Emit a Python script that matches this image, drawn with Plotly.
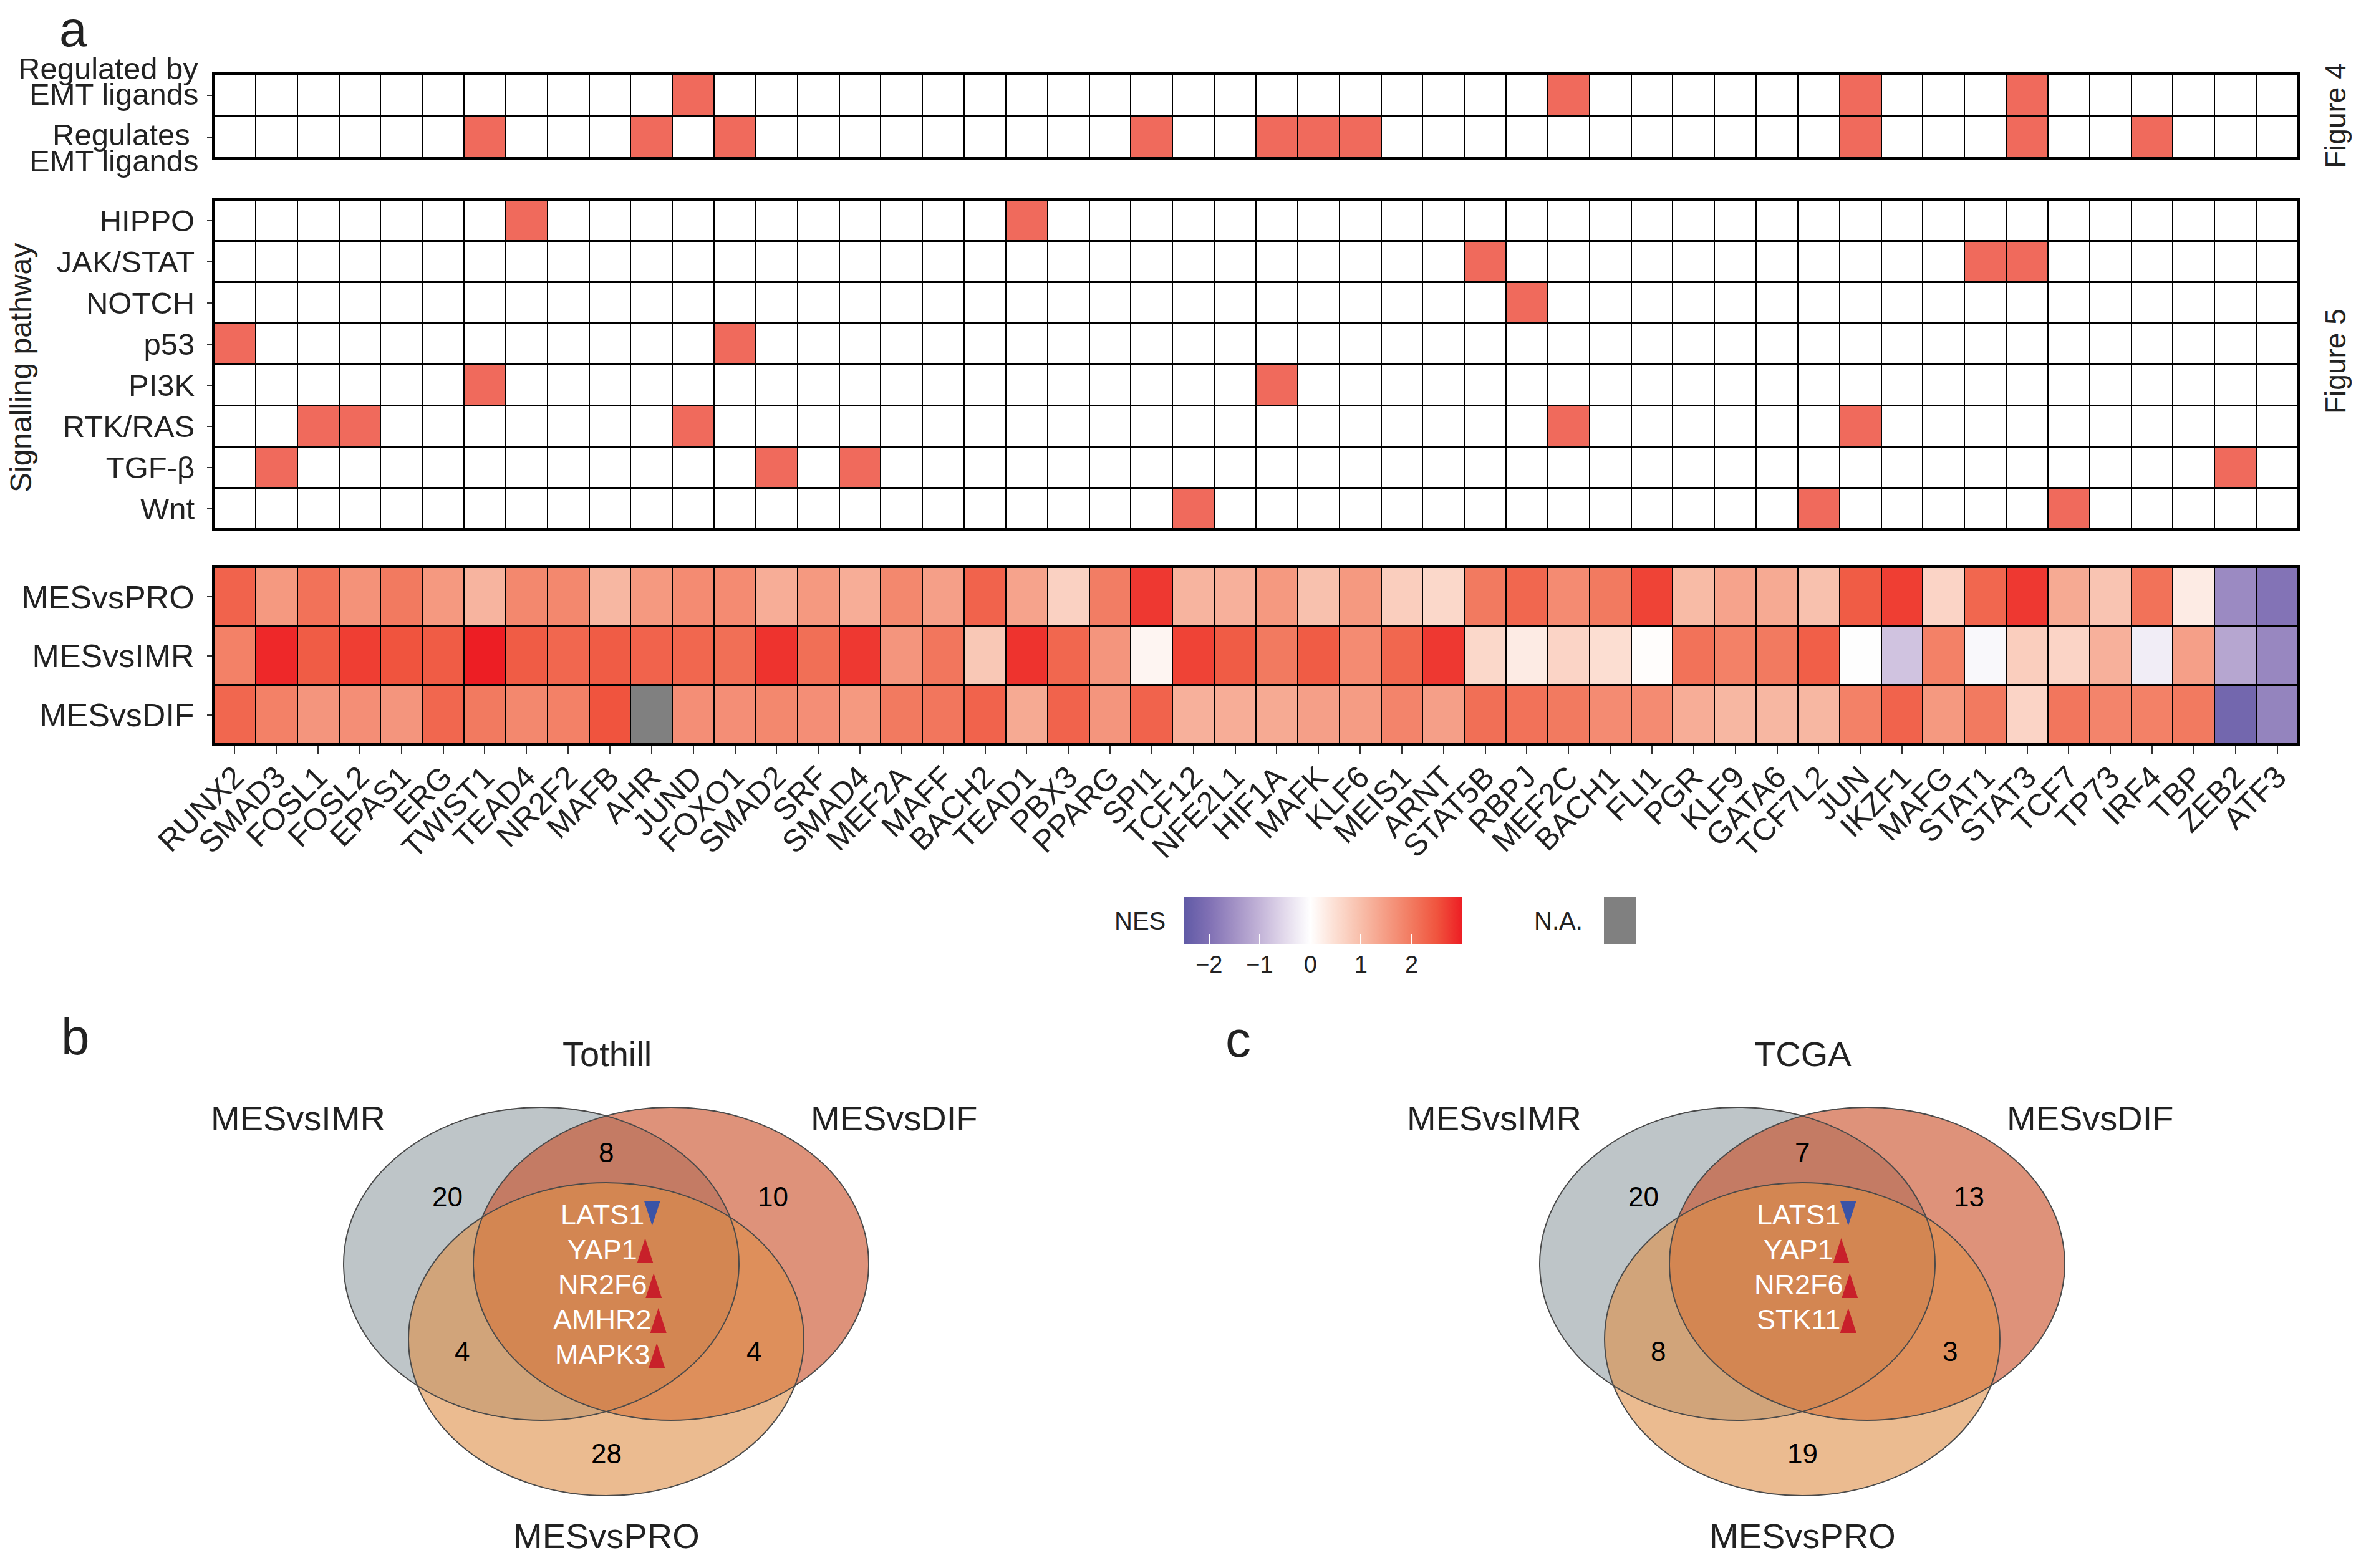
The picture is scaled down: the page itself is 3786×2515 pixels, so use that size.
import plotly.graph_objects as go

# ---------------- DATA ----------------
genes = ["RUNX2", "SMAD3", "FOSL1", "FOSL2", "EPAS1", "ERG", "TWIST1", "TEAD4", "NR2F2", "MAFB",
         "AHR", "JUND", "FOXO1", "SMAD2", "SRF", "SMAD4", "MEF2A", "MAFF", "BACH2", "TEAD1",
         "PBX3", "PPARG", "SPI1", "TCF12", "NFE2L1", "HIF1A", "MAFK", "KLF6", "MEIS1", "ARNT",
         "STAT5B", "RBPJ", "MEF2C", "BACH1", "FLI1", "PGR", "KLF9", "GATA6", "TCF7L2", "JUN",
         "IKZF1", "MAFG", "STAT1", "STAT3", "TCF7", "TP73", "IRF4", "TBP", "ZEB2", "ATF3"]

emt_rows = ["Regulated by EMT ligands", "Regulates EMT ligands"]
regulated_by_emt = ["JUND", "MEF2C", "JUN", "STAT3"]
regulates_emt = ["TWIST1", "AHR", "FOXO1", "SPI1", "HIF1A", "MAFK", "KLF6", "JUN", "STAT3", "IRF4"]

pathways = ["HIPPO", "JAK/STAT", "NOTCH", "p53", "PI3K", "RTK/RAS", "TGF-β", "Wnt"]
hippo = ["TEAD4", "TEAD1"]
jak_stat = ["STAT5B", "STAT1", "STAT3"]
notch = ["RBPJ"]
p53 = ["RUNX2", "FOXO1"]
pi3k = ["TWIST1", "HIF1A"]
rtk_ras = ["FOSL1", "FOSL2", "JUND", "MEF2C", "JUN"]
tgf_beta = ["SMAD3", "SMAD2", "SMAD4", "ZEB2"]
wnt = ["TCF12", "TCF7L2", "TCF7"]

nes_rows = ["MESvsPRO", "MESvsIMR", "MESvsDIF"]
nes_pro = [2.3, 1.55, 2.1, 1.65, 2.0, 1.55, 1.15, 1.8, 1.8, 1.1,
           1.55, 1.75, 1.75, 1.25, 1.55, 1.25, 1.8, 1.45, 2.3, 1.4,
           0.7, 1.95, 2.75, 1.15, 1.2, 1.55, 0.95, 1.55, 0.75, 0.6,
           2.0, 2.25, 1.75, 2.0, 2.65, 1.05, 1.4, 1.3, 0.95, 2.4,
           2.7, 0.65, 2.25, 2.75, 1.3, 0.9, 2.1, 0.3, -1.6, -1.95]
nes_imr = [1.9, 2.9, 2.4, 2.7, 2.5, 2.4, 2.99, 2.4, 2.25, 2.4,
           2.3, 2.25, 2.15, 2.8, 2.15, 2.75, 1.6, 2.05, 0.85, 2.8,
           2.25, 1.6, 0.15, 2.65, 2.4, 2.0, 2.4, 1.75, 2.25, 2.75,
           0.6, 0.3, 0.65, 0.5, 0.03, 2.1, 1.9, 2.0, 2.35, -0.02,
           -0.8, 1.9, -0.1, 0.75, 0.65, 1.2, -0.25, 1.45, -1.2, -1.65]
nes_dif = [2.25, 1.9, 1.6, 1.7, 1.6, 2.25, 2.0, 1.8, 1.9, 2.5,
           None, 1.7, 1.7, 1.8, 1.7, 1.55, 2.0, 2.05, 2.3, 1.3,
           2.3, 1.6, 2.3, 1.2, 1.25, 1.3, 1.45, 1.5, 1.85, 1.45,
           2.15, 2.1, 2.0, 1.75, 1.75, 1.25, 1.1, 1.1, 1.1, 1.9,
           2.3, 1.55, 2.0, 0.65, 2.05, 1.85, 1.9, 2.0, -2.2, -1.7]
nes_ticks = [-2, -1, 0, 1, 2]
nes_ticktext = ["\u22122", "\u22121", "0", "1", "2"]
nes_limits = [-2.49, 2.99]

venn_sets = ["MESvsIMR", "MESvsDIF", "MESvsPRO"]
venn_regions = ["IMR", "DIF", "IMR_DIF", "IMR_PRO", "DIF_PRO", "PRO"]
tothill_counts = [20, 10, 8, 4, 4, 28]
tothill_core = ["LATS1", "YAP1", "NR2F6", "AMHR2", "MAPK3"]
tothill_dir = ["down", "up", "up", "up", "up"]
tcga_counts = [20, 13, 7, 8, 3, 19]
tcga_core = ["LATS1", "YAP1", "NR2F6", "STK11"]
tcga_dir = ["down", "up", "up", "up"]

# ---------------- STYLE ----------------
W, H = 3786, 2515
OFF = 8  # page body margin
FONT = "Liberation Sans, Arial, Helvetica, sans-serif"
TXT = "#222222"
HIT = "#F06A5C"
NA_COL = "#808080"
nes_stops = [(-2.49, (96, 90, 166)), (-2.0, (128, 112, 180)), (-1.5, (162, 145, 197)),
             (-1.0, (195, 180, 216)), (-0.5, (227, 218, 236)), (0.0, (255, 255, 255)),
             (0.5, (252, 222, 210)), (1.0, (248, 190, 170)), (1.5, (245, 156, 132)),
             (2.0, (242, 122, 96)), (2.5, (240, 84, 62)), (2.99, (237, 30, 36))]
venn_fill = {"MESvsIMR": "rgba(147,158,163,0.6)", "MESvsDIF": "rgba(200,73,33,0.6)",
             "MESvsPRO": "rgba(222,142,70,0.6)"}
venn_geom = dict(
    centers={"MESvsIMR": (-104, 40), "MESvsDIF": (104, 40), "MESvsPRO": (0, -81)},
    rx=317, ry=251,
    region_xy={"IMR": (-255, 148), "DIF": (267, 148), "IMR_DIF": (0, 219),
               "IMR_PRO": (-231, -100), "DIF_PRO": (237, -100), "PRO": (0, -264)},
    title_xy=(1, 377),
    label_xy={"MESvsIMR": (-494, 274), "MESvsDIF": (462, 274), "MESvsPRO": (0, -396)},
    gene_x=-6, gene_top=119, gene_step=56,
)


def px_x(p):
    return (p - OFF) / W


def px_y(p):
    return 1 - (p - OFF) / H


def member_matrix(sets):
    return [[1 if g in s else 0 for g in genes] for s in sets]


char_w = {"A": .667, "L": .556, "T": .611, "S": .667, "Y": .667, "P": .667, "N": .722,
          "R": .722, "F": .611, "M": .833, "H": .722, "K": .667}


def text_width(s, size):
    return sum(char_w.get(c, .556) for c in s) * size


def label(text, x, y, size, angle=0, xanchor="center", color=TXT):
    return dict(text=text, xref="paper", yref="paper", x=px_x(x), y=px_y(y),
                xanchor=xanchor, yanchor="middle", textangle=angle, showarrow=False,
                font=dict(size=size, color=color, family=FONT))


fig = go.Figure()

n = len(genes)
hm_dom_x = [px_x(343), px_x(3685)]

# --- EMT heatmap
emt_z = member_matrix([regulated_by_emt, regulates_emt])
fig.add_trace(go.Heatmap(x=genes, y=emt_rows, z=emt_z, zmin=0, zmax=1,
                         colorscale=[[0, "white"], [1, HIT]], showscale=False,
                         xgap=2, ygap=3, hoverinfo="skip", xaxis="x", yaxis="y"))
# --- Signalling heatmap
sig_z = member_matrix([hippo, jak_stat, notch, p53, pi3k, rtk_ras, tgf_beta, wnt])
fig.add_trace(go.Heatmap(x=genes, y=pathways, z=sig_z, zmin=0, zmax=1,
                         colorscale=[[0, "white"], [1, HIT]], showscale=False,
                         xgap=2, ygap=3, hoverinfo="skip", xaxis="x2", yaxis="y2"))
# --- NES heatmap
nes_z = [nes_pro, nes_imr, nes_dif]
lo, hi = nes_limits
cscale = [[(v - lo) / (hi - lo), "rgb(%d,%d,%d)" % c] for v, c in nes_stops]
cscale[0][0] = 0.0
cscale[-1][0] = 1.0
fig.add_trace(go.Heatmap(
    x=genes, y=nes_rows, z=nes_z, zmin=lo, zmax=hi, colorscale=cscale,
    xgap=2, ygap=3, hoverinfo="skip", xaxis="x3", yaxis="y3",
    colorbar=dict(orientation="h", x=px_x(2121.5), xanchor="center",
                  y=px_y(1439), yanchor="top", len=445, lenmode="pixels",
                  thickness=75, thicknessmode="pixels", xpad=0, ypad=0,
                  outlinewidth=0, tickvals=nes_ticks, ticktext=nes_ticktext,
                  ticks="inside", ticklen=16, tickwidth=2, tickcolor="white",
                  tickfont=dict(size=38, color=TXT, family=FONT))))
na_z = [[1 if v is None else None for v in row] for row in nes_z]
fig.add_trace(go.Heatmap(x=genes, y=nes_rows, z=na_z, zmin=0, zmax=1,
                         colorscale=[[0, NA_COL], [1, NA_COL]], showscale=False,
                         xgap=2, ygap=3, hoverinfo="skip", xaxis="x3", yaxis="y3"))

shapes = []
annotations = []

axis_common = dict(showline=True, mirror=True, linecolor="black", linewidth=3,
                   showgrid=False, zeroline=False, automargin=False)
lay = dict(
    xaxis=dict(domain=hm_dom_x, anchor="y", range=[-0.5, n - 0.5], showticklabels=False,
               ticks="", **axis_common),
    yaxis=dict(domain=[px_y(254), px_y(119)], anchor="x", range=[len(emt_rows) - 0.5, -0.5],
               showticklabels=False, ticks="outside", ticklen=8, tickwidth=2, tickcolor="#333",
               **axis_common),
    xaxis2=dict(domain=hm_dom_x, anchor="y2", range=[-0.5, n - 0.5], showticklabels=False,
                ticks="", **axis_common),
    yaxis2=dict(domain=[px_y(849), px_y(321)], anchor="x2", range=[len(pathways) - 0.5, -0.5],
                ticks="outside", ticklen=8, tickwidth=2, tickcolor="#333", ticklabelstandoff=10,
                tickfont=dict(size=49, color=TXT, family=FONT), **axis_common),
    xaxis3=dict(domain=hm_dom_x, anchor="y3", range=[-0.5, n - 0.5], tickangle=-45,
                ticks="outside", ticklen=12, tickwidth=2, tickcolor="#333",
                ticklabelstandoff=-12,
                tickfont=dict(size=50, color=TXT, family=FONT), **axis_common),
    yaxis3=dict(domain=[px_y(1194), px_y(910)], anchor="x3", range=[len(nes_rows) - 0.5, -0.5],
                ticks="outside", ticklen=8, tickwidth=2, tickcolor="#333", ticklabelstandoff=10,
                tickfont=dict(size=52, color=TXT, family=FONT), **axis_common),
)

# black backgrounds for grid lines
for xr, yr, nr in [("x", "y", len(emt_rows)), ("x2", "y2", len(pathways)), ("x3", "y3", len(nes_rows))]:
    shapes.append(dict(type="rect", xref=xr, yref=yr, x0=-0.5, x1=n - 0.5, y0=-0.5, y1=nr - 0.5,
                       fillcolor="black", line=dict(width=0), layer="below"))

# EMT row labels (two lines each, tight line height)
emt_lines = [(emt_rows[0], "Regulated by", 43), (emt_rows[0], "EMT ligands", 2),
             (emt_rows[1], "Regulates\u00a0", 4), (emt_rows[1], "EMT ligands", -38)]
for row, txt, ys in emt_lines:
    annotations.append(dict(text=txt, xref="paper", yref="y", x=px_x(320), y=row,
                            xanchor="right", yanchor="middle", yshift=ys, showarrow=False,
                            font=dict(size=49, color=TXT, family=FONT)))

annotations += [
    label("Signalling pathway", 33, 590, 48, angle=-90),
    label("Figure 4", 3745, 186, 46, angle=-90),
    label("Figure 5", 3745, 580, 46, angle=-90),
    label("a", 117, 46, 80),
    label("b", 121, 1662, 82),
    label("c", 1985, 1666, 82),
    label("NES", 1828, 1477, 40),
    label("N.A.", 2540, 1477, 40, xanchor="right"),
]
shapes.append(dict(type="rect", xref="paper", yref="paper", x0=px_x(2572), x1=px_x(2624),
                   y0=px_y(1514), y1=px_y(1439), fillcolor=NA_COL, line=dict(width=0)))

# ---------------- VENN ----------------
venn_panels = [("Tothill", tothill_counts, tothill_core, tothill_dir, 972, 2067, "x4", "y4"),
               ("TCGA", tcga_counts, tcga_core, tcga_dir, 2890, 2067, "x5", "y5")]
HW, HH = 500, 440
for title, counts, core, dirs, cx, cy, xr, yr in venn_panels:
    ax_x = "xaxis" + xr[1:]
    ax_y = "yaxis" + yr[1:]
    lay[ax_x] = dict(domain=[px_x(cx - HW), px_x(cx + HW)], range=[-HW, HW], visible=False,
                     anchor=yr, automargin=False)
    lay[ax_y] = dict(domain=[px_y(cy + HH), px_y(cy - HH)], range=[-HH, HH],
                     visible=False, anchor=xr, automargin=False)
    g = venn_geom
    for s in venn_sets:
        ex, ey = g["centers"][s]
        shapes.append(dict(type="circle", xref=xr, yref=yr, x0=ex - g["rx"], x1=ex + g["rx"],
                           y0=ey - g["ry"], y1=ey + g["ry"], fillcolor=venn_fill[s],
                           line=dict(width=0), layer="below"))
    for s in venn_sets:
        ex, ey = g["centers"][s]
        shapes.append(dict(type="circle", xref=xr, yref=yr, x0=ex - g["rx"], x1=ex + g["rx"],
                           y0=ey - g["ry"], y1=ey + g["ry"], fillcolor="rgba(0,0,0,0)",
                           line=dict(width=2, color="#4a4a4a"), layer="below"))
    annotations.append(dict(text=title, xref=xr, yref=yr, x=g["title_xy"][0], y=g["title_xy"][1],
                            showarrow=False, font=dict(size=56, color=TXT, family=FONT)))
    for s in venn_sets:
        lx, ly = g["label_xy"][s]
        annotations.append(dict(text=s, xref=xr, yref=yr, x=lx, y=ly, showarrow=False,
                                font=dict(size=56, color=TXT, family=FONT)))
    for reg, cnt in zip(venn_regions, counts):
        rx_, ry_ = g["region_xy"][reg]
        annotations.append(dict(text=str(cnt), xref=xr, yref=yr, x=rx_, y=ry_, showarrow=False,
                                font=dict(size=44, color="black", family=FONT)))
    ax_list, ay_list, ang_list, col_list = [], [], [], []
    for i, (gene, d) in enumerate(zip(core, dirs)):
        gy = g["gene_top"] - i * g["gene_step"]
        annotations.append(dict(text=gene, xref=xr, yref=yr, x=g["gene_x"], y=gy,
                                showarrow=False, font=dict(size=45, color="white", family=FONT)))
        ax_list.append(g["gene_x"] + text_width(gene, 45) / 2 + 11)
        if d == "up":
            ay_list.append(gy + 18)
            ang_list.append(0)
            col_list.append("#C8202A")
        else:
            ay_list.append(gy - 18)
            ang_list.append(180)
            col_list.append("#3A53A6")
    fig.add_trace(go.Scatter(x=ax_list, y=ay_list, mode="markers", xaxis=xr, yaxis=yr,
                             hoverinfo="skip", showlegend=False,
                             marker=dict(symbol="arrow", size=42, angle=ang_list, color=col_list,
                                         line=dict(width=0))))

fig.update_layout(
    width=W, height=H, margin=dict(l=0, r=0, t=0, b=0),
    paper_bgcolor="white", plot_bgcolor="white", showlegend=False, hovermode=False,
    font=dict(family=FONT, color=TXT),
    shapes=shapes, annotations=annotations, **lay)

fig.write_html("out.html")
